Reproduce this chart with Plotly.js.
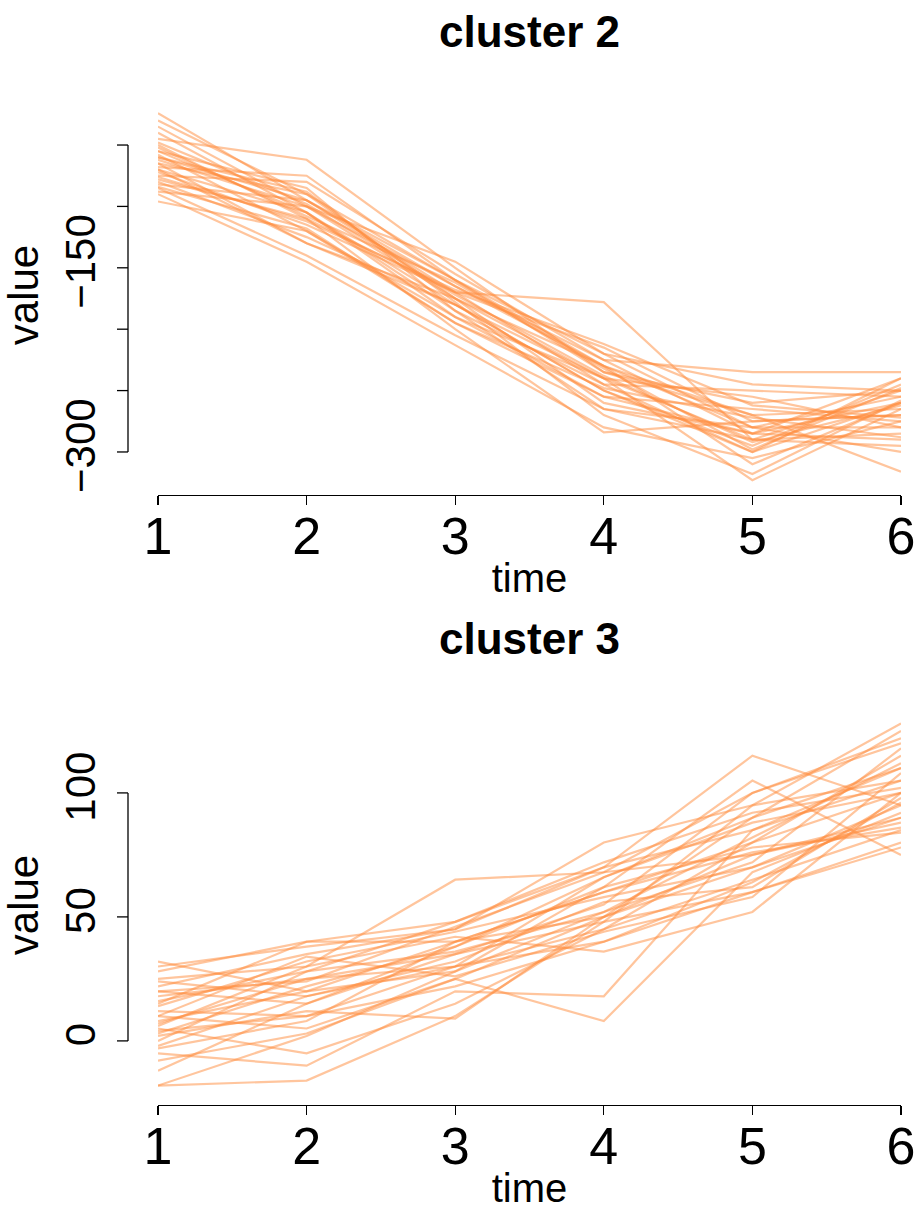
<!DOCTYPE html>
<html><head><meta charset="utf-8">
<script src="https://cdn.plot.ly/plotly-3.0.1.min.js"></script>
<style>body{margin:0;background:#fff}#c{width:920px;height:1211px}</style>
</head><body><div id="c"></div>
<script>
const times = [1,2,3,4,5,6];
const cluster2 = [
 [-24,-95,-160,-230,-280,-255],
 [-30,-90,-175,-240,-290,-250],
 [-35,-100,-165,-225,-285,-260],
 [-40,-105,-180,-250,-295,-245],
 [-45,-62,-150,-235,-270,-265],
 [-50,-110,-170,-215,-275,-270],
 [-55,-85,-185,-245,-300,-240],
 [-58,-120,-195,-255,-265,-275],
 [-60,-95,-165,-230,-310,-260],
 [-62,-100,-145,-220,-280,-280],
 [-65,-130,-175,-260,-285,-290],
 [-68,-75,-160,-235,-260,-250],
 [-70,-105,-190,-240,-323,-265],
 [-72,-115,-170,-178,-290,-285],
 [-75,-80,-155,-225,-235,-235],
 [-78,-110,-200,-284,-275,-270],
 [-80,-125,-180,-250,-300,-260],
 [-82,-95,-170,-245,-250,-255],
 [-85,-140,-205,-265,-290,-295],
 [-88,-100,-175,-230,-270,-316],
 [-90,-145,-213,-280,-305,-275],
 [-96,-120,-190,-255,-285,-240],
 [-65,-90,-160,-220,-245,-250],
 [-55,-105,-185,-265,-280,-300],
 [-70,-130,-180,-240,-255,-280],
 [-48,-98,-172,-238,-292,-262],
 [-76,-112,-168,-212,-262,-272],
 [-60,-88,-178,-270,-318,-258],
 [-84,-118,-195,-248,-272,-288],
 [-52,-108,-162,-232,-298,-248]
];
const cluster3 = [
 [32,20,40,60,80,100],
 [30,38,45,70,115,95],
 [28,40,40,50,90,110],
 [25,30,65,68,75,90],
 [22,35,45,80,95,128],
 [20,15,35,55,100,120],
 [18,25,30,45,65,85],
 [15,40,48,70,85,105],
 [12,10,30,40,60,80],
 [10,5,25,50,70,95],
 [8,20,28,62,105,75],
 [6,30,42,36,52,100],
 [5,-5,15,45,80,115],
 [3,22,38,66,90,125],
 [2,12,9,50,75,88],
 [0,28,48,72,92,102],
 [-2,18,32,56,62,98],
 [-5,-10,20,18,85,110],
 [-8,3,25,8,68,92],
 [-12,15,38,62,78,84],
 [-18,-16,10,48,95,105],
 [-18,2,28,52,82,112],
 [7,25,35,48,60,78],
 [14,32,44,58,70,90],
 [24,18,30,66,88,100],
 [4,10,22,40,64,96],
 [16,28,36,52,72,118],
 [-3,8,40,60,76,86],
 [10,34,26,44,58,108],
 [20,24,46,68,100,122]
];
const col = 'rgba(255,140,60,0.5)';
const traces = [];
cluster2.forEach(v=>traces.push({x:times,y:v,xaxis:'x',yaxis:'y',mode:'lines',line:{color:col,width:2.2},hoverinfo:'skip'}));
cluster3.forEach(v=>traces.push({x:times,y:v,xaxis:'x2',yaxis:'y2',mode:'lines',line:{color:col,width:2.2},hoverinfo:'skip'}));
const H=1211, W=920;
const py = p => 1 - p/H;
const xdom=[158/W, 901/W];
const F='Liberation Sans, Arial';
const xax = (pos)=>({domain:xdom, range:[1,6], anchor:'free', position:py(pos), showline:true, linecolor:'#000', linewidth:1.3,
  ticks:'outside', ticklen:9, tickwidth:1.3, tickcolor:'#000', tickvals:times, ticktext:times.map(String),
  ticklabelstandoff:-14,
  tickfont:{family:F,size:52,color:'#000'}, showgrid:false, zeroline:false,
  title:{text:'time', font:{family:F, size:40,color:'#000'}, standoff:0}});
const yax = (dom, rng, vals, text)=>({domain:dom, range:rng, showline:false, ticks:'', tickvals:vals, ticktext:text,
  tickangle:-90, tickfont:{family:F, size:42,color:'#000'}, showgrid:false, zeroline:false,
  anchor:'free', position:0.112, title:{text:'value', font:{family:F, size:42,color:'#000'}, standoff:6}});
const v2=[-50,-100,-150,-200,-250,-300], v3=[0,50,100];
const shapes=[];
const xl=128/W;
const addY=(yref, vals)=>{
  shapes.push({type:'line',xref:'paper',yref:yref,x0:xl,x1:xl,y0:vals[0],y1:vals[vals.length-1],line:{color:'#000',width:1.3}});
  vals.forEach(v=>shapes.push({type:'line',xref:'paper',yref:yref,x0:xl-11/W,x1:xl,y0:v,y1:v,line:{color:'#000',width:1.3}}));
};
addY('y',v2); addY('y2',v3);
const layout={width:W,height:H,margin:{l:0,r:0,t:0,b:0},showlegend:false,paper_bgcolor:'#fff',plot_bgcolor:'#fff',
 xaxis:xax(495), xaxis2:xax(1105),
 yaxis:yax([py(485),py(105)],[-326.9,-17.4],v2,['','','−150','','','−300']),
 yaxis2:yax([py(1090),py(720)],[-19.8,129.4],v3,['0','50','100']),
 shapes:shapes,
 annotations:[
  {text:'<b>cluster 2</b>',xref:'paper',yref:'paper',x:(158+901)/2/W,y:py(32),yanchor:'middle',showarrow:false,font:{family:F,size:44,color:'#000'}},
  {text:'<b>cluster 3</b>',xref:'paper',yref:'paper',x:(158+901)/2/W,y:py(638),yanchor:'middle',showarrow:false,font:{family:F,size:44,color:'#000'}}
 ]};
Plotly.newPlot('c',traces,layout,{staticPlot:true});
</script></body></html>
